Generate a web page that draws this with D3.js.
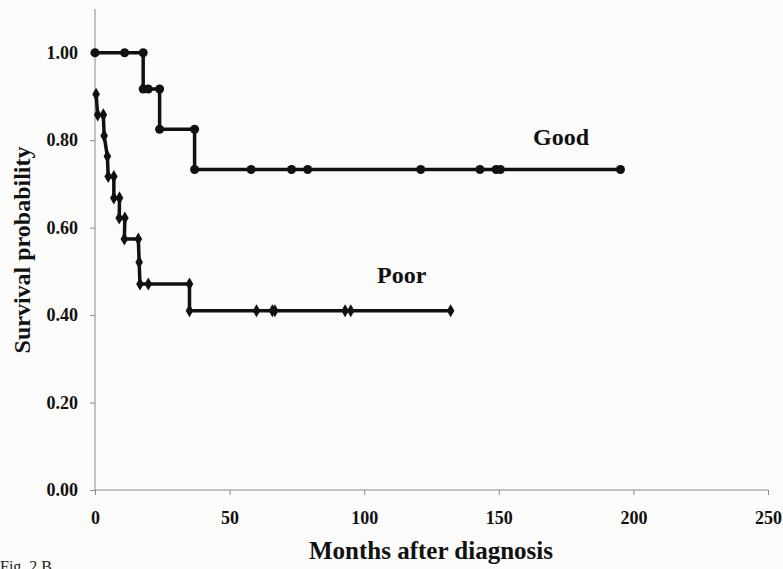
<!DOCTYPE html>
<meta charset="utf-8">
<style>
  body { margin: 0; background: #fbfbfa; }
  text { font-family: "Liberation Serif", "Times New Roman", serif; }
</style>

<!-- Load d3.js -->
<script src="https://d3js.org/d3.v7.min.js"></script>

<div id="my_dataviz"></div>

<script>

// Kaplan-Meier step points (months, survival)
var goodMonths = [0, 11, 17.9, 17.9, 19.8, 24, 24, 37, 37, 58, 73, 79, 121, 143, 149, 150.6, 195.2];
var goodSurv   = [1.0, 1.0, 1.0, 0.917, 0.917, 0.917, 0.825, 0.825, 0.733, 0.733, 0.733, 0.733, 0.733, 0.733, 0.733, 0.733, 0.733];

var poorMonths = [0.4, 1.0, 3.1, 3.4, 4.6, 4.9, 7.0, 7.0, 9.1, 9.0, 11.1, 10.9, 16.1, 16.4, 16.7, 19.8, 35.1, 35.1, 60, 65.9, 66.8, 92.9, 95, 132.1];
var poorSurv   = [0.905, 0.858, 0.858, 0.810, 0.763, 0.717, 0.717, 0.668, 0.668, 0.622, 0.622, 0.574, 0.574, 0.521, 0.471, 0.471, 0.471, 0.41, 0.41, 0.41, 0.41, 0.41, 0.41, 0.41];

var xTicks = [0, 50, 100, 150, 200, 250];
var yTicks = [0, 0.2, 0.4, 0.6, 0.8, 1.0];

var width = 783, height = 569;

var svg = d3.select("#my_dataviz")
  .append("svg")
    .attr("width", width)
    .attr("height", height);

var x = d3.scaleLinear()
  .domain([0, 250])
  .range([95, 768]);

var y = d3.scaleLinear()
  .domain([0, 1.1])
  .range([490, 9]);

// Y axis
var yAxis = svg.append("g")
  .attr("transform", "translate(" + x(0) + ",0)")
  .call(d3.axisLeft(y).tickValues(yTicks).tickSize(5).tickPadding(12)
        .tickFormat(d3.format(".2f")));
yAxis.select(".domain").attr("stroke", "#8a8a8a").attr("d", "M0," + y(1.1) + "V" + y(0));
yAxis.selectAll(".tick line").attr("stroke", "#8a8a8a");
yAxis.selectAll("text")
  .attr("font-size", 18).attr("font-weight", "bold")
  .attr("fill", "#111")
  .attr("font-family", "Liberation Serif");

// X axis
var xAxis = svg.append("g")
  .attr("transform", "translate(0," + y(0) + ")")
  .call(d3.axisBottom(x).tickValues(xTicks).tickSize(5).tickPadding(16));
xAxis.select(".domain").attr("stroke", "#8a8a8a").attr("d", "M" + x(0) + ",0H" + x(250));
xAxis.selectAll(".tick line").attr("stroke", "#8a8a8a");
xAxis.selectAll("text")
  .attr("font-size", 18).attr("font-weight", "bold")
  .attr("fill", "#111")
  .attr("font-family", "Liberation Serif");

// lines
var line = d3.line()
  .x(function (d) { return x(d[0]); })
  .y(function (d) { return y(d[1]); });

var good = d3.zip(goodMonths, goodSurv);
var poor = d3.zip(poorMonths, poorSurv);

svg.append("path")
  .datum(good)
  .attr("fill", "none")
  .attr("stroke", "#111")
  .attr("stroke-width", 3.5)
  .attr("d", line);

svg.append("path")
  .datum(poor)
  .attr("fill", "none")
  .attr("stroke", "#111")
  .attr("stroke-width", 3.5)
  .attr("d", line);

// markers: round for Good, diamonds for Poor
svg.append("g")
  .selectAll("circle")
  .data(good)
  .enter()
  .append("circle")
    .attr("cx", function (d) { return x(d[0]); })
    .attr("cy", function (d) { return y(d[1]); })
    .attr("r", 4.5)
    .style("fill", "#111");

svg.append("g")
  .selectAll("path")
  .data(poor)
  .enter()
  .append("path")
    .attr("d", d3.symbol().type(d3.symbolDiamond).size(50))
    .attr("transform", function (d) { return "translate(" + x(d[0]) + "," + y(d[1]) + ")"; })
    .style("fill", "#111");

// group labels
svg.append("text")
  .attr("x", 533).attr("y", 145)
  .attr("font-size", 24).attr("font-weight", "bold")
  .attr("fill", "#111")
  .text("Good");

svg.append("text")
  .attr("x", 377).attr("y", 283)
  .attr("font-size", 24).attr("font-weight", "bold")
  .attr("fill", "#111")
  .text("Poor");

// axis titles
svg.append("text")
  .attr("transform", "translate(30,250) rotate(-90)")
  .attr("text-anchor", "middle")
  .attr("font-size", 24).attr("font-weight", "bold")
  .attr("fill", "#111")
  .text("Survival probability");

svg.append("text")
  .attr("x", 431).attr("y", 559)
  .attr("text-anchor", "middle")
  .attr("font-size", 25).attr("font-weight", "bold")
  .attr("fill", "#111")
  .text("Months after diagnosis");

svg.append("text")
  .attr("x", 0).attr("y", 572)
  .attr("font-size", 16)
  .attr("fill", "#222")
  .text("Fig. 2 B");

</script>
